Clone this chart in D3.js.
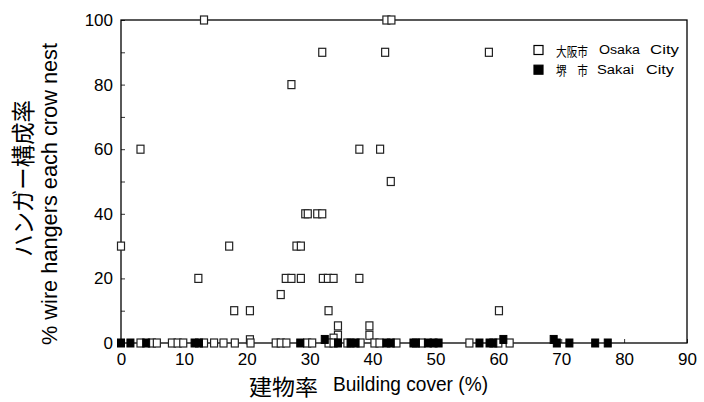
<!DOCTYPE html>
<html>
<head>
<meta charset="utf-8">
<script src="https://cdn.jsdelivr.net/npm/d3@7"></script>
<style>
  body { margin: 0; background: #fff; }
  text { font-family: "Liberation Sans", Arial, sans-serif; fill: #000; }
  .jp { font-family: "Noto Sans CJK JP", sans-serif; }
</style>
</head>
<body>
<script>
//tick values for both axes
var xTicks = [0, 10, 20, 30, 40, 50, 60, 70, 80, 90];
var yTicks = [0, 10, 20, 30, 40, 50, 60, 70, 80, 90, 100];

//Osaka City (open squares): building cover and % wire hangers
var osakaX = [13.2, 42.2, 43.0, 32.0, 42.0, 58.5, 27.1, 3.1, 37.9, 41.2, 42.9,
  29.3, 29.7, 31.2, 32.0, 0, 17.2, 27.9, 28.6, 12.3, 26.2, 27.1, 28.6, 32.1,
  32.9, 33.8, 37.9, 25.4, 18.0, 20.5, 33.0, 60.1, 34.5, 39.5, 34.5, 39.5,
  20.5, 33.8,
  3.1, 4.9, 5.7, 8.1, 9.0, 9.9, 13.2, 14.8, 16.3, 18.1, 20.6, 24.6, 25.4,
  26.3, 29.6, 30.4, 33.0, 33.8, 36.0, 38.1, 40.3, 41.1, 43.8, 47.8, 55.4,
  60.0, 61.8];
var osakaY = [100, 100, 100, 90, 90, 90, 80, 60, 60, 60, 50,
  40, 40, 40, 40, 30, 30, 30, 30, 20, 20, 20, 20, 20,
  20, 20, 20, 15, 10, 10, 10, 10, 5.3, 5.3, 2.4, 2.4,
  1, 1.5,
  0, 0, 0, 0, 0, 0, 0, 0, 0, 0, 0, 0, 0,
  0, 0, 0, 0, 0, 0, 0, 0, 0, 0, 0, 0,
  0, 0];

//Sakai City (filled squares)
var sakaiX = [0, 1.5, 4.0, 11.7, 12.4, 28.5, 34.5, 36.5, 37.3, 42.2, 42.9,
  46.5, 46.9, 48.8, 49.7, 50.5, 57.0, 58.6, 59.2, 69.3, 71.3, 75.4, 77.4,
  32.4, 60.8, 68.8];
var sakaiY = [0, 0, 0, 0, 0, 0, 0, 0, 0, 0, 0,
  0, 0, 0, 0, 0, 0, 0, 0, 0, 0, 0, 0,
  1.1, 1.1, 1.1];

//legend labels
var legendJp = ["大阪市", "堺\u3000市"];
var legendEn = [["Osaka", "City"], ["Sakai", "City"]];

var width = 704, height = 402;
var plot = {left: 121, right: 687, top: 20, bottom: 343};

var svg = d3.select("body")
  .append("svg")
  .attr("width", width)
  .attr("height", height);

//scales
var x = d3.scaleLinear()
  .domain([0, 90])
  .range([plot.left, plot.right]);
var y = d3.scaleLinear()
  .domain([0, 100])
  .range([plot.bottom, plot.top]);

//x axis, ticks point inward
var xAxis = d3.axisBottom(x)
  .tickValues(xTicks)
  .tickSizeInner(-4)
  .tickSizeOuter(0)
  .tickPadding(10);
var gx = svg.append("g")
  .attr("transform", "translate(0," + plot.bottom + ")")
  .call(xAxis);
gx.select(".domain").remove();
gx.selectAll("text").style("font-size", "17px");
gx.selectAll("line").attr("stroke", "#333");

//y axis, labels every 20
var yAxis = d3.axisLeft(y)
  .tickValues(yTicks)
  .tickFormat(function(d){ return d % 20 === 0 ? d : ""; })
  .tickSizeInner(-4)
  .tickSizeOuter(0)
  .tickPadding(8);
var gy = svg.append("g")
  .attr("transform", "translate(" + plot.left + ",0)")
  .call(yAxis);
gy.select(".domain").remove();
gy.selectAll("text").style("font-size", "17px");
gy.selectAll("line").attr("stroke", "#333");

//frame around the plot
svg.append("rect")
  .attr("x", plot.left)
  .attr("y", plot.top)
  .attr("width", plot.right - plot.left)
  .attr("height", plot.bottom - plot.top)
  .attr("fill", "none")
  .attr("stroke", "#000")
  .attr("stroke-width", 1.3);

//square markers
var sw = 7, sh = 8;
svg.selectAll(".osaka")
  .data(osakaX)
  .enter()
  .append("rect")
  .attr("class", "osaka")
  .attr("x", function(d){ return x(d) - sw / 2; })
  .attr("y", function(d, i){ return y(osakaY[i]) - sh / 2; })
  .attr("width", sw)
  .attr("height", sh)
  .attr("fill", "#fff")
  .attr("stroke", "#222")
  .attr("stroke-width", 1.2);

svg.selectAll(".sakai")
  .data(sakaiX)
  .enter()
  .append("rect")
  .attr("class", "sakai")
  .attr("x", function(d){ return x(d) - sw / 2; })
  .attr("y", function(d, i){ return y(sakaiY[i]) - sh / 2; })
  .attr("width", sw)
  .attr("height", sh)
  .attr("fill", "#000")
  .attr("stroke", "#000")
  .attr("stroke-width", 1);

//legend
var legend = svg.append("g");
[0, 1].forEach(function(i){
  var cy = 50 + i * 19.7;
  legend.append("rect")
    .attr("x", 534)
    .attr("y", cy - 4.5)
    .attr("width", 9)
    .attr("height", 9)
    .attr("fill", i === 0 ? "#fff" : "#000")
    .attr("stroke", "#000")
    .attr("stroke-width", 1.2);
  legend.append("text")
    .attr("class", "jp")
    .attr("x", 556)
    .attr("y", cy)
    .attr("dominant-baseline", "central")
    .attr("textLength", 32)
    .attr("lengthAdjust", "spacingAndGlyphs")
    .style("font-size", "13px")
    .text(legendJp[i]);
  legend.append("text")
    .attr("x", i === 0 ? 599 : 597)
    .attr("y", cy + 4.3)
    .attr("textLength", i === 0 ? 41 : 37)
    .attr("lengthAdjust", "spacingAndGlyphs")
    .style("font-size", "12.5px")
    .text(legendEn[i][0]);
  legend.append("text")
    .attr("x", i === 0 ? 650 : 646)
    .attr("y", cy + 4.3)
    .attr("textLength", i === 0 ? 29 : 28)
    .attr("lengthAdjust", "spacingAndGlyphs")
    .style("font-size", "12.5px")
    .text(legendEn[i][1]);
});

//x axis title
svg.append("text")
  .attr("class", "jp")
  .attr("x", 249)
  .attr("y", 385)
  .attr("dominant-baseline", "central")
  .attr("textLength", 69)
  .attr("lengthAdjust", "spacingAndGlyphs")
  .style("font-size", "22px")
  .text("建物率");
svg.append("text")
  .attr("x", 333)
  .attr("y", 391)
  .attr("textLength", 155)
  .attr("lengthAdjust", "spacingAndGlyphs")
  .style("font-size", "21px")
  .text("Building cover (%)");

//y axis titles (rotated)
svg.append("text")
  .attr("class", "jp")
  .attr("transform", "translate(21.5,178.5) rotate(-90)")
  .attr("text-anchor", "middle")
  .attr("dominant-baseline", "central")
  .attr("textLength", 157)
  .attr("lengthAdjust", "spacingAndGlyphs")
  .style("font-size", "24px")
  .text("ハンガー構成率");
svg.append("text")
  .attr("transform", "translate(49.7,194) rotate(-90)")
  .attr("text-anchor", "middle")
  .attr("dominant-baseline", "central")
  .attr("textLength", 302)
  .attr("lengthAdjust", "spacingAndGlyphs")
  .style("font-size", "21.5px")
  .text("% wire hangers each crow nest");
</script>
</body>
</html>
